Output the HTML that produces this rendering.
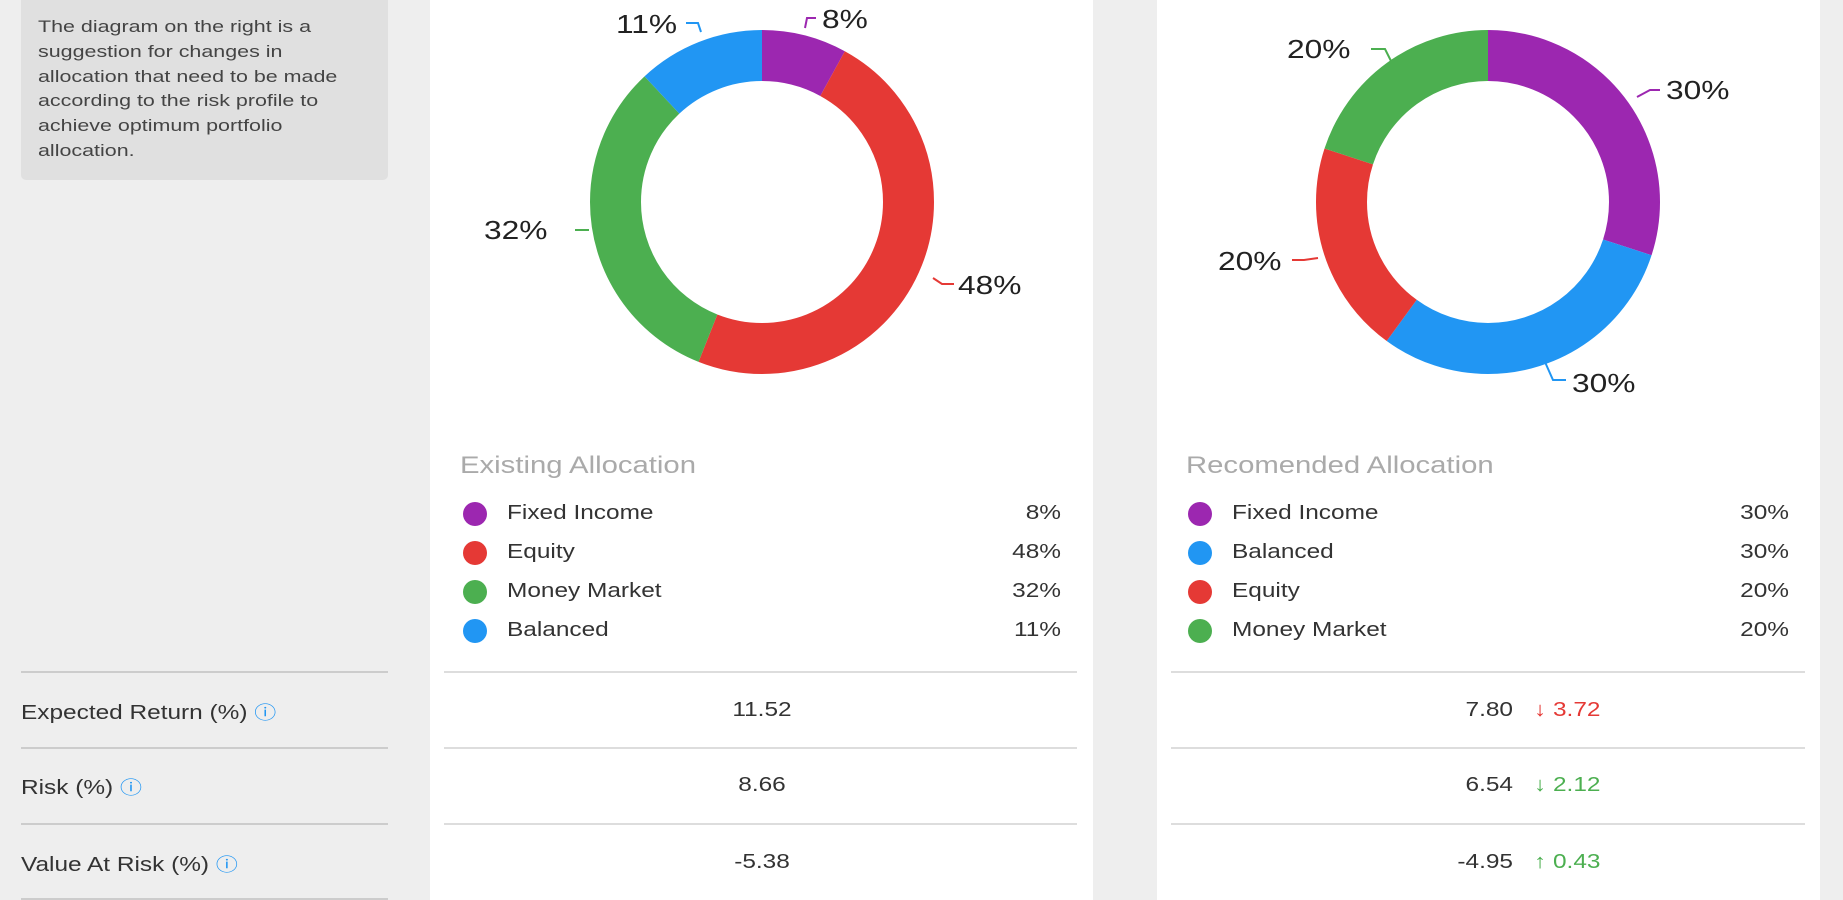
<!DOCTYPE html>
<html><head><style>
body{margin:0;width:1843px;height:900px;background:#eeeeee;font-family:"Liberation Sans",sans-serif;position:relative;overflow:hidden}
.a{position:absolute;white-space:nowrap}
.s{transform:scaleX(1.22);transform-origin:left center}
.r{transform:scaleX(1.22);transform-origin:right center}
.c{transform:scaleX(1.22);transform-origin:center center}
</style></head><body>
<div class="a" style="left:430px;top:0;width:663px;height:900px;background:#fff"></div>
<div class="a" style="left:1157px;top:0;width:663px;height:900px;background:#fff"></div>
<div class="a" style="left:21px;top:0;width:367px;height:180px;background:#e0e0e0;border-radius:0 0 5px 5px"></div>
<div class="a" style="left:38px;top:15px;font-size:16.5px;line-height:24.8px;color:#444;white-space:nowrap;transform:scaleX(1.3);transform-origin:left top">The diagram on the right is a<br>suggestion for changes in<br>allocation that need to be made<br>according to the risk profile to<br>achieve optimum portfolio<br>allocation.</div>

<svg class="a" style="left:0;top:0" width="1843" height="900">
<g transform="translate(762,202) rotate(-90)" fill="none" stroke-width="51">
<circle r="146.5" stroke="#9c27b0" stroke-dasharray="73.6 1000" stroke-dashoffset="0"/>
<circle r="146.5" stroke="#e53935" stroke-dasharray="441.8 1000" stroke-dashoffset="-73.6"/>
<circle r="146.5" stroke="#4caf50" stroke-dasharray="294.6 1000" stroke-dashoffset="-515.4"/>
<circle r="146.5" stroke="#2196f3" stroke-dasharray="110.5 1000" stroke-dashoffset="-810"/>
</g>
<g transform="translate(1488,202) rotate(-90)" fill="none" stroke-width="51">
<circle r="146.5" stroke="#9c27b0" stroke-dasharray="276.15 1000" stroke-dashoffset="0"/>
<circle r="146.5" stroke="#2196f3" stroke-dasharray="276.15 1000" stroke-dashoffset="-276.15"/>
<circle r="146.5" stroke="#e53935" stroke-dasharray="184.1 1000" stroke-dashoffset="-552.3"/>
<circle r="146.5" stroke="#4caf50" stroke-dasharray="184.1 1000" stroke-dashoffset="-736.4"/>
</g>
<g fill="none" stroke-width="2">
<polyline points="805,28 807,18 816,18" stroke="#9c27b0"/>
<polyline points="933,278 942,284 954,284" stroke="#e53935"/>
<polyline points="589,230 575,230" stroke="#4caf50"/>
<polyline points="701,32 698,23 686,23" stroke="#2196f3"/>
<polyline points="1637,97 1650,90 1660,90" stroke="#9c27b0"/>
<polyline points="1545,362 1553,380 1566,380" stroke="#2196f3"/>
<polyline points="1318,258 1304,260 1292,260" stroke="#e53935"/>
<polyline points="1391,61 1385,49 1371,49" stroke="#4caf50"/>
</g>
<g font-family="Liberation Sans" font-size="26" fill="#222">
<text x="822" y="28" transform="translate(822,0) scale(1.22,1) translate(-822,0)">8%</text>
<text x="958" y="294" transform="translate(958,0) scale(1.22,1) translate(-958,0)">48%</text>
<text x="484" y="239" transform="translate(484,0) scale(1.22,1) translate(-484,0)">32%</text>
<text x="616" y="33" transform="translate(616,0) scale(1.22,1) translate(-616,0)">11%</text>
<text x="1666" y="99" transform="translate(1666,0) scale(1.22,1) translate(-1666,0)">30%</text>
<text x="1572" y="392" transform="translate(1572,0) scale(1.22,1) translate(-1572,0)">30%</text>
<text x="1218" y="270" transform="translate(1218,0) scale(1.22,1) translate(-1218,0)">20%</text>
<text x="1287" y="58" transform="translate(1287,0) scale(1.22,1) translate(-1287,0)">20%</text>
</g>
</svg>

<div class="a s" style="left:460px;top:452px;font-size:24px;color:#aaa">Existing Allocation</div>
<div class="a s" style="left:1186px;top:452px;font-size:24px;color:#aaa">Recomended Allocation</div>

<div style="font-size:20px;color:#333">
<div class="a" style="left:463px;top:502px;width:24px;height:24px;border-radius:50%;background:#9c27b0"></div>
<div class="a s" style="left:507px;top:502px">Fixed Income</div><div class="a r" style="left:961px;width:100px;text-align:right;top:502px">8%</div>
<div class="a" style="left:463px;top:541px;width:24px;height:24px;border-radius:50%;background:#e53935"></div>
<div class="a s" style="left:507px;top:541px">Equity</div><div class="a r" style="left:961px;width:100px;text-align:right;top:541px">48%</div>
<div class="a" style="left:463px;top:580px;width:24px;height:24px;border-radius:50%;background:#4caf50"></div>
<div class="a s" style="left:507px;top:580px">Money Market</div><div class="a r" style="left:961px;width:100px;text-align:right;top:580px">32%</div>
<div class="a" style="left:463px;top:619px;width:24px;height:24px;border-radius:50%;background:#2196f3"></div>
<div class="a s" style="left:507px;top:619px">Balanced</div><div class="a r" style="left:961px;width:100px;text-align:right;top:619px">11%</div>

<div class="a" style="left:1188px;top:502px;width:24px;height:24px;border-radius:50%;background:#9c27b0"></div>
<div class="a s" style="left:1232px;top:502px">Fixed Income</div><div class="a r" style="left:1689px;width:100px;text-align:right;top:502px">30%</div>
<div class="a" style="left:1188px;top:541px;width:24px;height:24px;border-radius:50%;background:#2196f3"></div>
<div class="a s" style="left:1232px;top:541px">Balanced</div><div class="a r" style="left:1689px;width:100px;text-align:right;top:541px">30%</div>
<div class="a" style="left:1188px;top:580px;width:24px;height:24px;border-radius:50%;background:#e53935"></div>
<div class="a s" style="left:1232px;top:580px">Equity</div><div class="a r" style="left:1689px;width:100px;text-align:right;top:580px">20%</div>
<div class="a" style="left:1188px;top:619px;width:24px;height:24px;border-radius:50%;background:#4caf50"></div>
<div class="a s" style="left:1232px;top:619px">Money Market</div><div class="a r" style="left:1689px;width:100px;text-align:right;top:619px">20%</div>
</div>

<div class="a" style="left:21px;top:671px;width:367px;height:2px;background:#ccc"></div>
<div class="a" style="left:21px;top:747px;width:367px;height:2px;background:#ccc"></div>
<div class="a" style="left:21px;top:823px;width:367px;height:2px;background:#ccc"></div>
<div class="a" style="left:21px;top:898px;width:367px;height:2px;background:#ccc"></div>
<div class="a" style="left:444px;top:671px;width:633px;height:2px;background:#ddd"></div>
<div class="a" style="left:444px;top:747px;width:633px;height:2px;background:#ddd"></div>
<div class="a" style="left:444px;top:823px;width:633px;height:2px;background:#ddd"></div>
<div class="a" style="left:1171px;top:671px;width:634px;height:2px;background:#ddd"></div>
<div class="a" style="left:1171px;top:747px;width:634px;height:2px;background:#ddd"></div>
<div class="a" style="left:1171px;top:823px;width:634px;height:2px;background:#ddd"></div>

<div style="font-size:20px;color:#333">
<div class="a s" style="left:21px;top:699px">Expected Return (%) <span style="color:#2196f3;font-size:18px">ⓘ</span></div>
<div class="a s" style="left:21px;top:774px">Risk (%) <span style="color:#2196f3;font-size:18px">ⓘ</span></div>
<div class="a s" style="left:21px;top:851px">Value At Risk (%) <span style="color:#2196f3;font-size:18px">ⓘ</span></div>
<div class="a c" style="left:662px;width:200px;text-align:center;top:699px">11.52</div>
<div class="a c" style="left:662px;width:200px;text-align:center;top:774px">8.66</div>
<div class="a c" style="left:662px;width:200px;text-align:center;top:851px">-5.38</div>
<div class="a r" style="left:1413px;width:100px;text-align:right;top:699px">7.80</div>
<div class="a r" style="left:1413px;width:100px;text-align:right;top:774px">6.54</div>
<div class="a r" style="left:1413px;width:100px;text-align:right;top:851px">-4.95</div>
<div class="a s" style="left:1534px;top:699px;color:#e53935">↓ 3.72</div>
<div class="a s" style="left:1534px;top:774px;color:#4caf50">↓ 2.12</div>
<div class="a s" style="left:1534px;top:851px;color:#4caf50">↑ 0.43</div>
</div>
</body></html>
